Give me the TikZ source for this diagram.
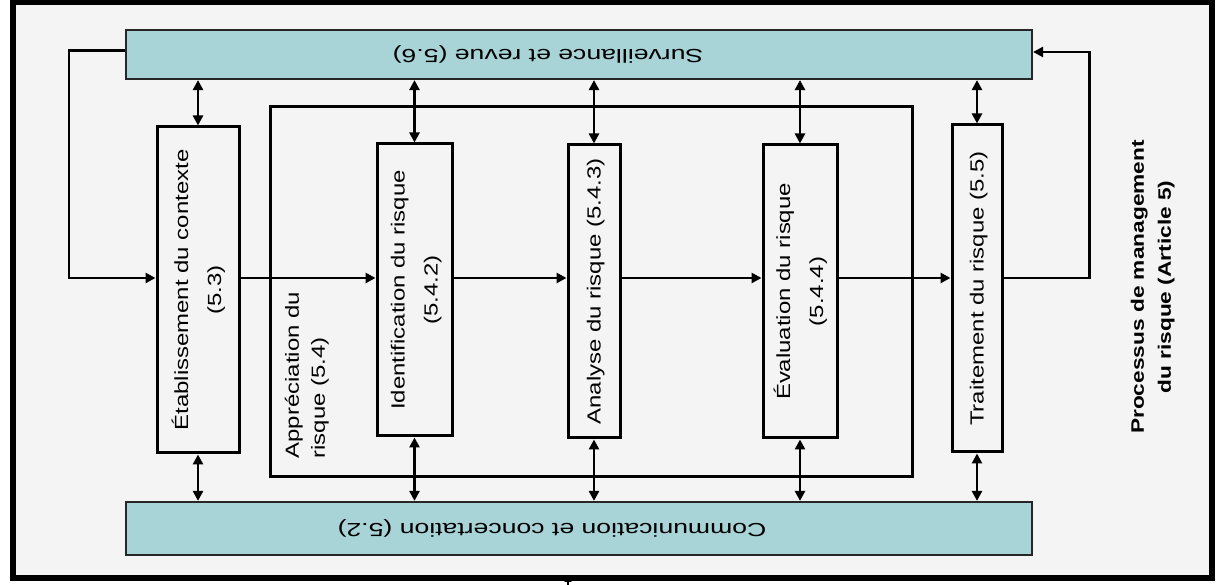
\documentclass[tikz,border=0pt]{standalone}
\usepackage{graphicx}
\usepackage{fontspec}
\setmainfont{Liberation Sans}
\newfontfamily\boxfont[FakeStretch=1.26]{Liberation Sans}
\newfontfamily\bandfont[FakeStretch=1.4]{Liberation Sans}
\usetikzlibrary{arrows.meta,positioning}

\definecolor{bgcol}{RGB}{244,244,244}
\definecolor{bandcol}{RGB}{168,212,215}

% text turned to read from bottom to top
\newcommand{\uptext}[1]{\rotatebox{90}{\begin{tabular}{@{}c@{}}#1\end{tabular}}}

\begin{document}
\begin{tikzpicture}[
    x=1pt, y=1pt,
    >={Triangle[length=10pt,width=10pt]},
    every node/.style={inner sep=0pt, font=\boxfont\fontsize{19}{33}\selectfont},
    stagebox/.style={
        draw,
        line width=3pt,
        fill=bgcol
    },
    bandbox/.style={
        draw=black!85,
        line width=2.2pt,
        fill=bandcol,
        minimum width=906pt
    },
    bandtext/.style={rotate=180, font=\bandfont\fontsize{19}{33}\selectfont},
    arr/.style={->, line width=2.7pt},
    dbl/.style={<->, line width=2.7pt}
]
    \useasboundingbox (0,0) rectangle (1216,585);

    % Frame
    \node[
        draw,
        line width=6pt,
        fill=bgcol,
        minimum width=1199pt,
        minimum height=576pt
    ] (frame) at (612.5,295) {};

    % Bands
    \node[bandbox, minimum height=49pt] (surv) at (579,530.5) {};
    \node[bandtext] (survtext) at ([xshift=-31pt]surv.center) {Surveillance et revue (5.6)};

    \node[bandbox, minimum height=53pt] (comm) at (579,56.5) {};
    \node[bandtext] (commtext) at ([xshift=-27pt]comm.center) {Communication et concertation (5.2)};

    % Stages
    \node[
        stagebox,
        minimum width=82pt,
        minimum height=326pt
    ] (etab) at (198,295) {\uptext{Établissement du contexte\\(5.3)}};

    \node[
        stagebox,
        minimum width=642pt,
        minimum height=370pt
    ] (appr) at (591,293) {};
    \node[
        above right=20pt and 12pt of appr.south west,
        font=\boxfont\fontsize{19}{26}\selectfont
    ] (apprtext) {\rotatebox{90}{\begin{tabular}{@{}l@{}}Appréciation du\\risque (5.4)\end{tabular}}};

    \node[
        stagebox,
        minimum width=75pt,
        minimum height=292pt
    ] (ident) at (414.5,295) {\uptext{Identification du risque\\(5.4.2)}};

    \node[
        stagebox,
        minimum width=52pt,
        minimum height=293pt
    ] (analyse) at (594,293.5) {\uptext{Analyse du risque (5.4.3)}};

    \node[
        stagebox,
        minimum width=74pt,
        minimum height=293pt
    ] (eval) at (800,293.5) {\uptext{Évaluation du risque\\(5.4.4)}};

    \node[
        stagebox,
        minimum width=50pt,
        minimum height=327pt
    ] (trait) at (977,296.5) {\uptext{Traitement du risque (5.5)}};

    \node[
        font=\boxfont\bfseries\fontsize{18}{27}\selectfont
    ] (process) at (1152,298) {\uptext{Processus de management\\du risque (Article 5)}};

    % Main flow
    \coordinate (row) at (0,307);
    \draw[arr] ([yshift=4pt]surv.west) -- ++(-56,0) |- (etab.west |- row);
    \draw[arr] (etab.east |- row) -- (ident.west |- row);
    \draw[arr] (ident.east |- row) -- (analyse.west |- row);
    \draw[arr] (analyse.east |- row) -- (eval.west |- row);
    \draw[arr] (eval.east |- row) -- (trait.west |- row);
    \draw[arr] (trait.east |- row) -- ++(86,0) |- ([yshift=2.5pt]surv.east);

    % Links to the bands
    \foreach \s in {etab,ident,analyse,eval,trait} {
        \draw[dbl] (surv.south -| \s.north) -- (\s.north);
        \draw[dbl] (\s.south) -- (comm.north -| \s.south);
    }

    \coordinate (stub) at (568,0);
    \draw[->, line width=1.5pt, >={Triangle[length=7pt,width=7pt]}] (stub) -- ([yshift=6pt]frame.south -| stub);

\end{tikzpicture}
\end{document}
